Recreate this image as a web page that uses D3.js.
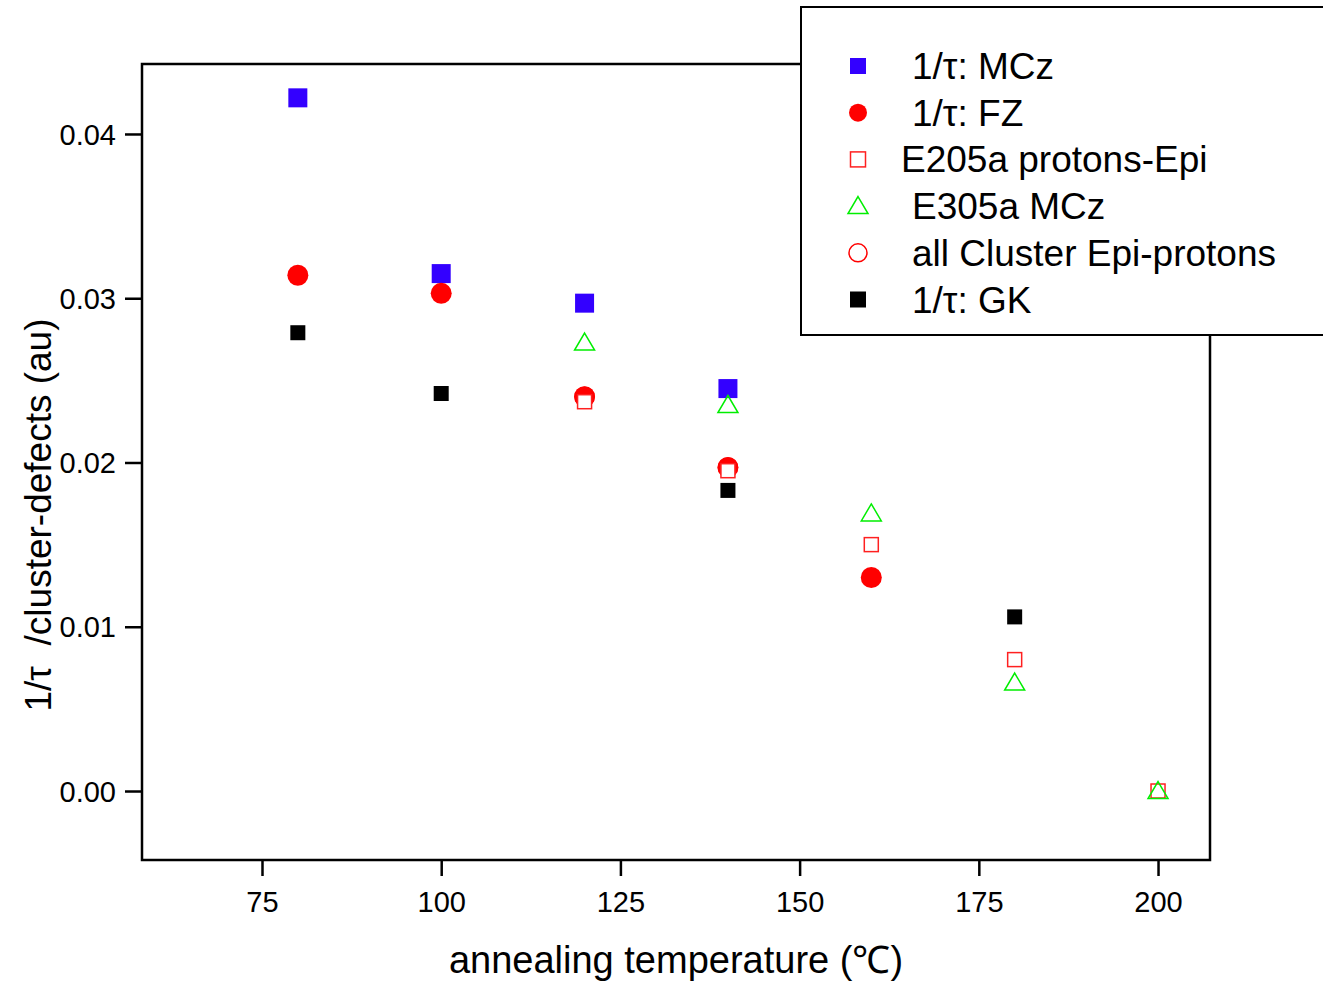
<!DOCTYPE html>
<html><head><meta charset="utf-8">
<script src="https://cdn.jsdelivr.net/npm/d3@7"></script>
<style>body{margin:0;background:#fff}svg{display:block;font-family:"Liberation Sans",Arial,sans-serif}</style>
</head><body><svg id="c" width="1323" height="981"></svg>
<script>
const xTicks = [75, 100, 125, 150, 175, 200];
const yTicks = [0, 0.01, 0.02, 0.03, 0.04];
const mczT = [80, 100, 120, 140];
const mczV = [0.0422, 0.0315, 0.0297, 0.0245];
const fzT = [80, 100, 120, 140, 160];
const fzV = [0.0314, 0.0303, 0.0240, 0.0197, 0.0130];
const e205T = [120, 140, 160, 180, 200];
const e205V = [0.0237, 0.0195, 0.0150, 0.0080, 0.0];
const e305T = [120, 140, 160, 180, 200];
const e305V = [0.0273, 0.0235, 0.0169, 0.0066, 0.0];
const allT = [120, 140];
const allV = [0.0240, 0.0197];
const gkT = [80, 100, 140, 180];
const gkV = [0.0279, 0.0242, 0.0183, 0.0106];
const legendLabels = ["1/\u03c4: MCz", "1/\u03c4: FZ", "E205a protons-Epi", "E305a MCz", "all Cluster Epi-protons", "1/\u03c4: GK"];

const svg = d3.select("#c");
const L = 142, R = 1210, T = 64, B = 860;
const x = d3.scaleLinear().domain([58.26, 207.25]).range([L, R]);
const y = d3.scaleLinear().domain([-0.0042, 0.04426]).range([B, T]);

const series = [
  {t: mczT, v: mczV, shape: "sq", size: 19, fill: "#3300ff", stroke: "none"},
  {t: fzT, v: fzV, shape: "circ", size: 21, fill: "#ff0000", stroke: "none"},
  {t: allT, v: allV, shape: "circ", size: 19, fill: "none", stroke: "#ff0000"},
  {t: e205T, v: e205V, shape: "sq", size: 14, fill: "#fff", stroke: "#ff2020"},
  {t: e305T, v: e305V, shape: "tri", size: 20, fill: "none", stroke: "#00ee00"},
  {t: gkT, v: gkV, shape: "sq", size: 15, fill: "#000", stroke: "none"}
];
const legendOrder = [0, 1, 3, 4, 2, 5];

function drawMarker(g, s, cx, cy) {
  const h = s.size / 2;
  let el;
  if (s.shape === "sq") el = g.append("rect").attr("x", cx - h).attr("y", cy - h).attr("width", s.size).attr("height", s.size);
  else if (s.shape === "circ") el = g.append("circle").attr("cx", cx).attr("cy", cy).attr("r", h);
  else el = g.append("path").attr("d", `M${cx},${cy - h * 0.95}L${cx + h},${cy + h * 0.75}L${cx - h},${cy + h * 0.75}Z`);
  el.attr("fill", s.fill).attr("stroke", s.stroke).attr("stroke-width", s.stroke === "none" ? 0 : 1.5);
}

// axes
const xa = svg.append("g").attr("transform", `translate(0,${B})`)
  .call(d3.axisBottom(x).tickValues(xTicks).tickSize(16).tickSizeOuter(0).tickFormat(d3.format("d")));
const ya = svg.append("g").attr("transform", `translate(${L},0)`)
  .call(d3.axisLeft(y).tickValues(yTicks).tickSize(17).tickSizeOuter(0).tickFormat(d3.format(".2f")));
[xa, ya].forEach(a => {
  a.select(".domain").remove();
  a.selectAll("line").attr("stroke", "#000").attr("stroke-width", 2.5);
  a.selectAll("text").attr("fill", "#000").attr("font-size", 29);
});
xa.selectAll("text").attr("dy", 0).attr("y", 52);
ya.selectAll("text").attr("x", -26).attr("dy", "0.35em");

// markers
const pg = svg.append("g");
series.forEach(s => s.t.forEach((t, i) => drawMarker(pg, s, x(t), y(s.v[i]))));

// frame
svg.append("rect").attr("x", L).attr("y", T).attr("width", R - L).attr("height", B - T)
  .attr("fill", "none").attr("stroke", "#000").attr("stroke-width", 2.5);

// titles
svg.append("text").attr("x", 676).attr("y", 973).attr("text-anchor", "middle").attr("font-size", 38)
  .text("annealing temperature (\u2103)");
svg.append("text").attr("transform", "translate(51,515) rotate(-90)").attr("text-anchor", "middle").attr("font-size", 37)
  .style("white-space", "pre").text("1/\u03c4  /cluster-defects (au)");

// legend
const lg = svg.append("g");
lg.append("rect").attr("x", 801).attr("y", 7).attr("width", 540).attr("height", 328)
  .attr("fill", "#fff").attr("stroke", "#000").attr("stroke-width", 2);
legendOrder.forEach((si, i) => {
  const cy = 66 + i * 46.7;
  const s = Object.assign({}, series[si]);
  s.size = s.shape === "sq" ? (si === 3 ? 15 : 16) : (s.shape === "circ" ? 18 : 20);
  drawMarker(lg, s, 858, cy);
  const tx = si === 3 ? 901 : 912;
  lg.append("text").attr("x", tx).attr("y", cy + 13).attr("font-size", 37).text(legendLabels[i]);
});
</script></body></html>
